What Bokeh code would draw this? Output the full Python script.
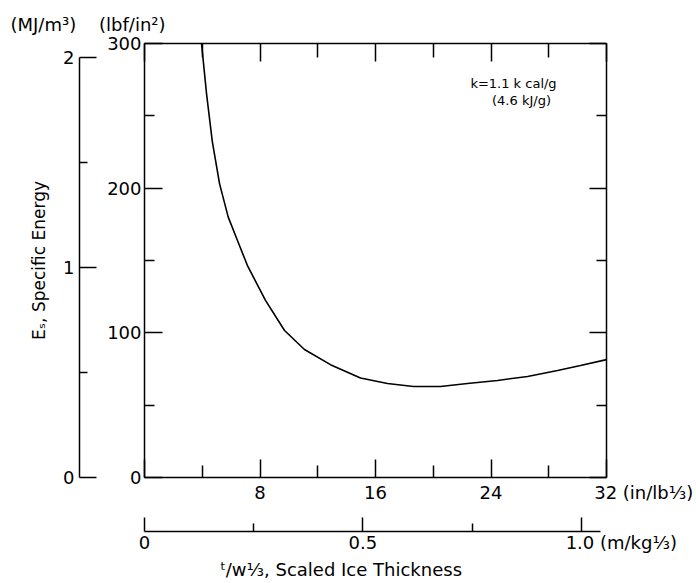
from bokeh.plotting import figure
from bokeh.models import Range1d, LinearAxis, FixedTicker, Label, Title
from bokeh.embed import file_html
from bokeh.resources import INLINE

# ---- data ----
thickness_in = [3.95, 4.30, 4.70, 5.20, 5.80, 6.44, 7.13, 8.38, 9.70, 11.08, 12.88,
                14.96, 16.83, 18.63, 20.50, 22.37, 24.45, 26.53, 28.61, 30.20, 32.0]
energy_psi = [300, 265, 232, 203, 180, 163.8, 146.5, 122.4, 101.6, 88.5, 78.0,
              68.8, 65.0, 62.9, 62.9, 65.0, 67.1, 69.8, 74.0, 77.4, 81.5]

x_ticks = [0, 8, 16, 24, 32]
x_minor = [4, 12, 20, 28]
x_labels = ["", "8", "16", "24", "32"]
x_unit = "(in/lb⅓)"
y_ticks = [0, 100, 200, 300]
y_minor = [50, 150, 250]
mj_ticks = [0, 1, 2]
mj_minor = [0.5, 1.5]
si_ticks = [0, 0.5, 1.0]
si_minor = [0.25, 0.75]
si_labels = ["0", "0.5", "1.0"]
si_unit = "(m/kg⅓)"

PSI_PER_MJ = 145.038
SI_PER_IN = 0.0254 / (0.45359237 ** (1.0 / 3.0))

X_MAX = 32
Y_MAX = 300
FONT = "DejaVu Sans"
NB = "\u00a0"

W, H = 696, 583
FL, FR, FT, FB = 144, 606, 43, 477

p = figure(width=W, height=H, x_range=Range1d(0, X_MAX), y_range=Range1d(0, Y_MAX),
           output_backend="svg", toolbar_location=None,
           x_axis_location=None, y_axis_location=None,
           min_border_left=FL, min_border_right=W - FR,
           min_border_top=FT, min_border_bottom=H - FB)
p.grid.grid_line_color = None
p.outline_line_color = None
p.background_fill_color = "white"
p.border_fill_color = "white"

p.extra_y_ranges = {"mj": Range1d(0, Y_MAX / PSI_PER_MJ)}
p.extra_x_ranges = {"si": Range1d(0, X_MAX * SI_PER_IN)}


def style(ax, major_in, minor_in, size="18px", labels=True):
    ax.axis_line_color = "black"
    ax.axis_line_width = 1.5
    ax.major_tick_line_color = "black"
    ax.major_tick_line_width = 1.5
    ax.minor_tick_line_color = "black"
    ax.minor_tick_line_width = 1.5
    ax.major_tick_in = major_in
    ax.major_tick_out = 0
    ax.minor_tick_in = minor_in
    ax.minor_tick_out = 0
    ax.major_label_text_font = FONT
    ax.major_label_text_font_size = size
    ax.major_label_text_color = "black" if labels else None


def spacer(ax, standoff):
    ax.axis_label = " "
    ax.axis_label_text_font_size = "10px"
    ax.axis_label_text_color = None
    ax.axis_label_standoff = standoff


# main bottom axis (in/lb^1/3); units appended to the last tick label
xl = list(x_labels)
xl[-1] = NB * 13 + xl[-1] + " " + x_unit
xb = LinearAxis(ticker=FixedTicker(ticks=x_ticks, minor_ticks=x_minor))
style(xb, 18, 12)
xb.major_label_standoff = 4
xb.major_label_overrides = {t: s for t, s in zip(x_ticks, xl)}
spacer(xb, 12)
p.add_layout(xb, "below")

# secondary bottom axis (m/kg^1/3)
sl = list(si_labels)
sl[-1] = NB * 14 + sl[-1] + " " + si_unit
xs = LinearAxis(x_range_name="si", ticker=FixedTicker(ticks=si_ticks, minor_ticks=si_minor),
                bounds=(0, 31.6 * SI_PER_IN))
style(xs, 14, 8)
xs.major_label_standoff = 0
xs.major_label_overrides = {t: s for t, s in zip(si_ticks, sl)}
p.add_layout(xs, "below")

# bottom title
p.add_layout(Title(text="ᵗ/w⅓,  Scaled Ice Thickness", align="left", offset=220 - FL,
                   text_font=FONT, text_font_size="18px", text_font_style="normal",
                   text_color="black", standoff=2), "below")

# main left axis (lbf/in^2)
yl = LinearAxis(ticker=FixedTicker(ticks=y_ticks, minor_ticks=y_minor))
style(yl, 18, 10)
yl.major_label_standoff = 3
spacer(yl, 11)
p.add_layout(yl, "left")

# secondary left axis (MJ/m^3)
ym = LinearAxis(y_range_name="mj", ticker=FixedTicker(ticks=mj_ticks, minor_ticks=mj_minor),
                bounds=(0, 2))
style(ym, 17, 8)
ym.major_label_standoff = 5
ym.axis_label = "Eₛ, Specific Energy"
ym.axis_label_text_font = FONT
ym.axis_label_text_font_size = "17px"
ym.axis_label_text_font_style = "normal"
ym.axis_label_text_color = "black"
ym.axis_label_standoff = 11
p.add_layout(ym, "left")

# right and top frame axes (ticks only, no labels drawn)
yr = LinearAxis(ticker=FixedTicker(ticks=y_ticks, minor_ticks=y_minor))
style(yr, 17, 10, size="1px", labels=False)
yr.major_label_standoff = 0
p.add_layout(yr, "right")

xt = LinearAxis(ticker=FixedTicker(ticks=x_ticks, minor_ticks=x_minor))
style(xt, 18, 14, size="1px", labels=False)
xt.major_label_standoff = 0
p.add_layout(xt, "above")

# unit headings top-left
p.add_layout(Title(text="(MJ/m³)" + NB * 4 + "(lbf/in²)", align="left", offset=10 - FL,
                   text_font=FONT, text_font_size="18px", text_font_style="normal",
                   text_color="black", standoff=18), "above")

# curve
p.line(thickness_in, energy_psi, line_color="black", line_width=1.6)


def dx(px):
    return (px - FL) * X_MAX / (FR - FL)


def dy(py):
    return (FB - py) * Y_MAX / (FB - FT)


# annotation inside the frame
for txt, px, py in [("k=1.1 k cal/g", 513, 83), ("(4.6 kJ/g)", 521, 100)]:
    p.add_layout(Label(x=dx(px), y=dy(py), text=txt, text_font=FONT,
                       text_font_size="13px", text_align="center",
                       text_baseline="middle", text_color="black"))

open("out.html", "w").write(file_html(p, INLINE))
